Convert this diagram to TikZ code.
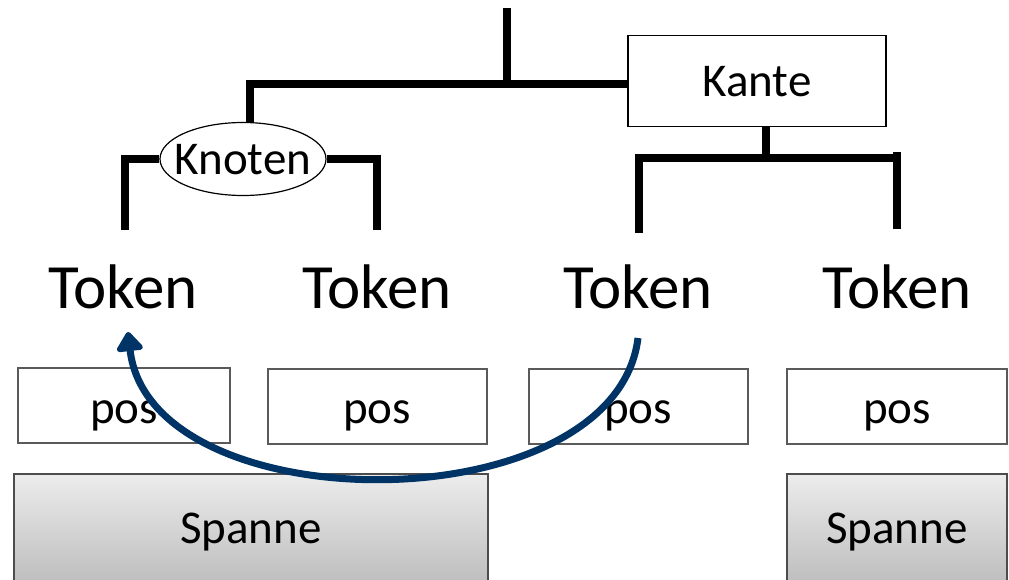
\documentclass[tikz,border=0pt]{standalone}
\usepackage{fontspec}
\setmainfont{Carlito}
\usetikzlibrary{arrows.meta,shapes.geometric}
\definecolor{arrowblue}{RGB}{0,51,102}
\definecolor{boxgray}{RGB}{90,90,90}
\definecolor{shtop}{RGB}{236,236,236}
\definecolor{shbot}{RGB}{190,190,190}
\tikzset{
  tree/.style={line width=8.5pt, line cap=butt},
  tok/.style={font=\fontsize{63}{63}\selectfont, anchor=base, inner sep=0pt},
  lbl/.style={font=\fontsize{47}{47}\selectfont, anchor=base, inner sep=0pt},
  posbox/.style={draw=boxgray, line width=1.2pt},
  spanbox/.style={draw=black!70, line width=1.5pt, top color=shtop, bottom color=shbot},
  link/.style={line width=7pt, draw=arrowblue, -{Triangle[width=30pt,length=21pt,round]}}
}
\begin{document}
\begin{tikzpicture}[x=1pt,y=-1pt]
\useasboundingbox (0,0) rectangle (1009,580);
% boxes
\draw[posbox] (18,368) rectangle (230,443);
\draw[posbox] (268,369) rectangle (487,444);
\draw[posbox] (529,369) rectangle (748,444);
\draw[posbox] (787,369) rectangle (1007,444);
\draw[spanbox] (14,474) rectangle (488,582);
\draw[spanbox] (787,474) rectangle (1007,582);
\node[lbl] (p1) at (124,423) {pos};
\node[lbl] (p2) at (377,423) {pos};
\node[lbl] (p3) at (638,423) {pos};
\node[lbl] (p4) at (897,423) {pos};
\node[lbl] (s1) at (251,543) {Spanne};
\node[lbl] (s2) at (897,543) {Spanne};
% tokens
\node[tok] (t1) at (123,308) {Token};
\node[tok] (t2) at (377,308) {Token};
\node[tok] (t3) at (638,308) {Token};
\node[tok] (t4) at (897,308) {Token};
% tree
\node[draw, line width=1.2pt, minimum width=258pt, minimum height=91pt, inner sep=0pt] (kante) at (757,81) {};
\node[lbl] at (757,97) {Kante};
\node[ellipse, draw, line width=1.2pt, minimum width=166pt, minimum height=73pt, inner sep=0pt] (knoten) at (243,159) {};
\node[lbl] at (243,175) {Knoten};
\coordinate (root) at (507,8);
\coordinate (rj) at (507,84);
\coordinate (lj) at (250,84);
\coordinate (l1) at (125,230);
\coordinate (l2) at (377,230);
\coordinate (r1) at (639,233);
\coordinate (r2) at (897,229);
\draw[tree] (root) -- (rj);
\draw[tree] (kante.west |- rj) -- (246,84) ;
\draw[tree] (lj) -- (lj |- knoten.north);
\draw[tree] (knoten.west) -- (121,159);
\draw[tree] (125,155) -- (l1);
\draw[tree] (knoten.east) -- (381,159);
\draw[tree] (377,155) -- (l2);
\draw[tree] (kante.south -| 766,0) -- (766,158);
\draw[tree] (636,158) -- (901,158);
\draw[tree] (639,154) -- (r1);
\draw[tree] (897,152) -- (r2);
% arrow
\coordinate (as) at (638,338);
\coordinate (ae) at (128,332);
\draw[link] (as) .. controls (615,525) and (150,525) .. (ae);
\end{tikzpicture}
\end{document}
